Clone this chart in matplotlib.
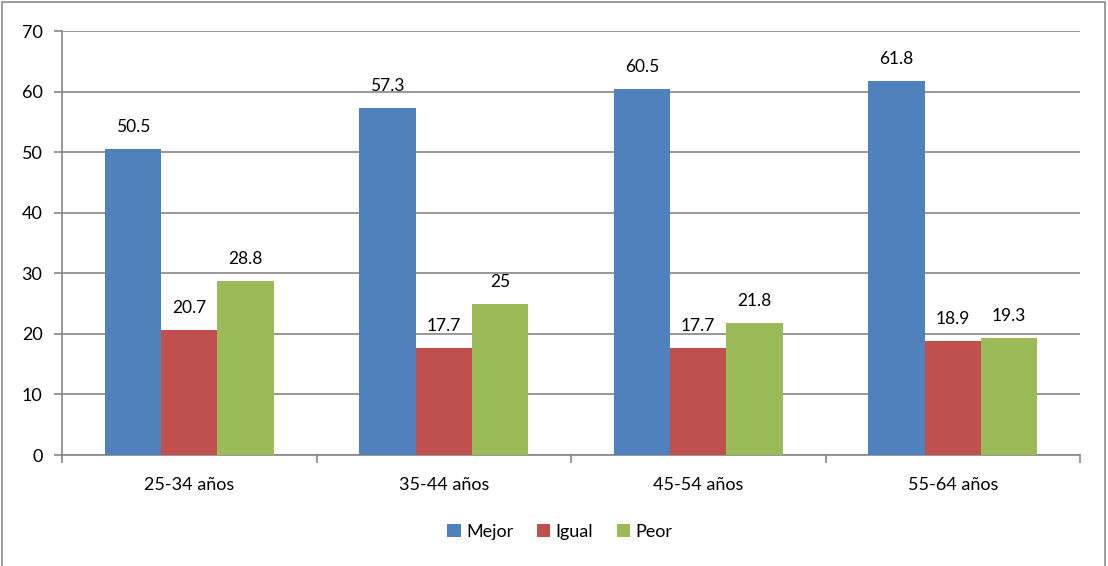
import matplotlib.pyplot as plt
import numpy as np
from matplotlib.patches import Rectangle

categories = ["25-34 años", "35-44 años", "45-54 años", "55-64 años"]
mejor = [50.5, 57.3, 60.5, 61.8]
igual = [20.7, 17.7, 17.7, 18.9]
peor = [28.8, 25, 21.8, 19.3]
series_names = ["Mejor", "Igual", "Peor"]
colors = ["#4F81BD", "#C0504D", "#9BBB59"]

plt.rcParams['font.family'] = ['Lato', 'DejaVu Sans']

fig = plt.figure(figsize=(11.08, 5.66), dpi=100)
ax = fig.add_axes([62/1108, 1 - 455/566, (1080 - 62)/1108, (455 - 31)/566])

# outer chart frame
fig.patches.append(Rectangle((2/1108, -0.1), (1105 - 2)/1108, 1.1 - 2/566,
                             transform=fig.transFigure, fill=False,
                             edgecolor="#8c8c8c", linewidth=1.2))

x = np.arange(len(categories))
width = 0.222
for k, (vals, name, col) in enumerate(zip([mejor, igual, peor], series_names, colors)):
    pos = x + (k - 1) * width
    bars = ax.bar(pos, vals, width, color=col, label=name, zorder=3)
    for b, v in zip(bars, vals):
        lbl = "%g" % v
        ax.annotate(lbl, (b.get_x() + b.get_width()/2, v), xytext=(0, 10),
                    textcoords="offset points", ha="center", va="bottom",
                    fontsize=12.5, color="black")

ax.set_xlim(-0.5, len(categories) - 0.5)
ax.set_ylim(0, 70)
ax.set_yticks(range(0, 71, 10))
ax.yaxis.grid(True, color="#868686", linewidth=1.2, zorder=0)
ax.set_axisbelow(True)

ax.set_xticks(x)
ax.set_xticklabels(categories, fontsize=13)
ax.set_xticks(np.arange(-0.5, len(categories)), minor=True)
ax.tick_params(axis="x", which="major", length=0, pad=16)
ax.tick_params(axis="x", which="minor", length=6, color="#868686", width=1.2, direction="out")
ax.tick_params(axis="y", length=6, color="#868686", width=1.2, labelsize=13, pad=8)

for s in ["top", "right"]:
    ax.spines[s].set_visible(False)
for s in ["left", "bottom"]:
    ax.spines[s].set_color("#868686")
    ax.spines[s].set_linewidth(1.2)

fig.legend(loc="center", bbox_to_anchor=(560/1108, 1 - 532/566), ncol=3,
           frameon=False, fontsize=13, handlelength=0.75, handleheight=0.75,
           handletextpad=0.3, columnspacing=1.3)

fig.savefig("out.png", dpi=100)
